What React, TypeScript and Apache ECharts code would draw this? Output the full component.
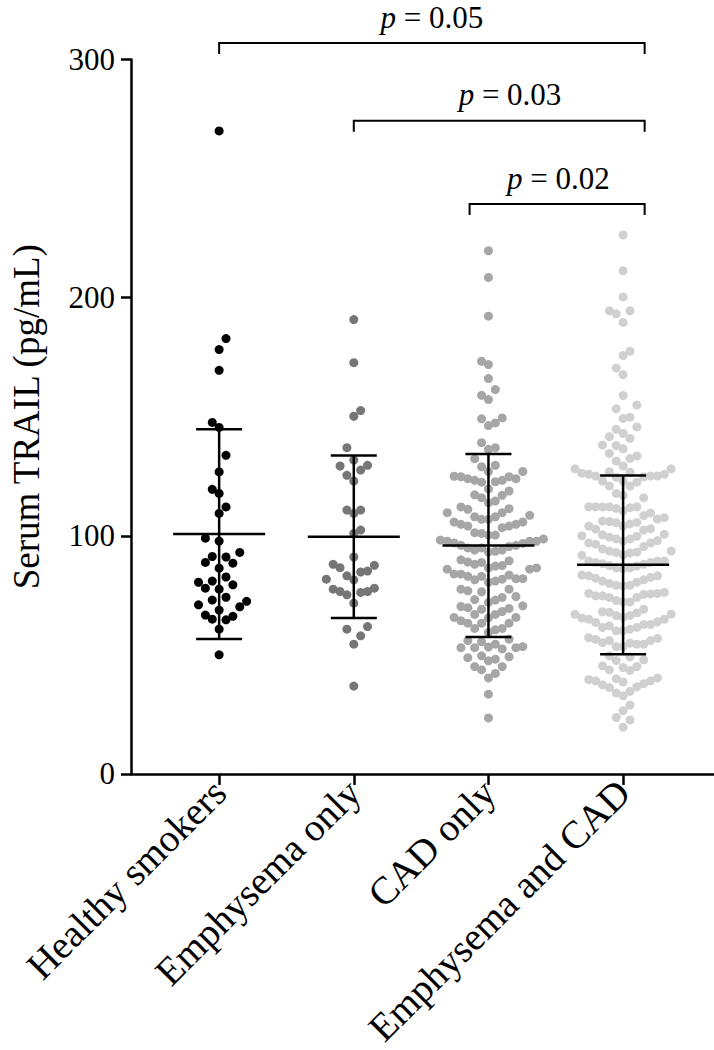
import React, { useEffect, useRef } from "react";
import * as echarts from "echarts";

const categories = ["Healthy smokers", "Emphysema only", "CAD only", "Emphysema and CAD"];
const dotColors = ["#000000", "#767676", "#a6a6a6", "#d0d0d0"];

const healthySmokers = [270, 182.8, 178.2, 169.5, 147.6, 145.5, 133.8, 126.8, 119.5, 117.8, 112.1, 109.4, 99, 97.8, 93, 91.1, 91.3, 88.5, 88.8, 86.4, 82.7, 81, 79.4, 78, 80.5, 77.6, 74.2, 72.5, 73, 71, 70.2, 68.8, 66.2, 66.7, 64.7, 65, 60.8, 50];

const emphysemaOnly = [190.8, 172.7, 152.6, 150.2, 137, 131.8, 129.6, 129.3, 127.6, 125.4, 123, 110.8, 110.8, 109.4, 102.4, 101, 91.1, 88, 87.6, 86.6, 85.2, 84.8, 83.2, 81.8, 81.5, 78, 77.6, 76.6, 76.6, 76.2, 75.2, 71.7, 61.9, 60.8, 58, 54.5, 36.9];

const cadOnly = [
  219.7, 208.5, 192.2, 173.3, 171.9, 166, 161.4, 159, 157.2,
  149.5, 149.1, 147.4, 146.3,
  139.1, 137, 136.3, 132.4,
  129.6, 129,
  127, 124.8, 124, 123.3, 122.7, 122.5, 123.3, 124, 124.8, 125, 127,
  118.8, 117, 114.6, 116, 117.2, 119.7,
  112.1, 111.1, 109.7, 108.6, 109.7, 111.4, 113.9,
  108, 106.9, 105.8, 104.8, 104.1, 103.4, 104.1, 104.8, 105.8, 106.9, 108,
  101.3, 100.3, 98.7, 97.7, 97, 96.8, 97.7, 97.7, 98.2, 100.3, 101,
  96, 94.9, 94, 93.5, 93.2, 94, 94.9, 95.5, 96,
  89.9, 89, 88, 87.3, 86.5, 86, 86, 86.5, 87.5, 88.8, 89.5,
  83.9, 83, 82, 81.8, 81, 80.5, 81.5, 82, 83, 83.5, 84,
  77.6, 76.5, 74.1, 73, 72, 73.2, 74.5, 76.9, 77.6,
  70.6, 69.8, 69.2, 67, 65.7, 65.5, 65.7, 67, 68.2, 69.5, 70.3,
  64.3, 63.3, 61.1, 60.5, 59.4, 61.1, 63.3, 63.3,
  56.6, 55.5, 53, 52.5, 53.5, 53, 53.3, 54.5, 56, 53,
  49.2, 48.2, 47.5, 48.8, 49.6,
  45.1, 43.7, 42.2, 45.1, 40.3,
  33.5, 23.5,
];

const emphysemaAndCad = [
  226.3, 211.3, 200.3, 194.5, 194.5, 193.2, 189.6, 177.5, 175.7, 170.5, 167.7, 158.9,
  153.3, 154.9, 149.3, 149.8, 144.7, 145.7, 143, 141.6, 140.9, 138.1, 136.5, 137.9, 133.5, 131.4, 132.5, 134.6, 129.3,
  128.1, 126.7, 125.8, 125.1, 124.8, 124.5, 125.1, 125.1, 125.8, 126.3, 126.9, 128.1,
  120.9, 123, 122.5, 123, 120.9,
  117, 117.8, 116,
  112.2, 112.2,
  112.1, 111.8, 109.6, 108.5, 107.6, 107, 110.5, 111.5, 112.1, 112.1,
  106.2, 105.5, 104.1, 103, 102.4, 102.8, 104.1, 105, 105.6, 106,
  100.6, 99.8, 98.7, 97.8, 97, 96.5, 97, 98, 98.7, 99.4, 100, 100.4,
  93.6, 93.2, 92.8, 91.8, 92, 93, 93.6, 94.5, 95.5,
  89.4, 88.8, 88, 87.3, 86.5, 86.2, 86.5, 87.5, 88.3, 88.8, 89.4, 89.4,
  83.2, 82.2, 81, 80, 79.2, 79, 79.2, 80.5, 81.5, 82.5, 83.2, 83.5,
  76.2, 75.8, 74.8, 74.1, 72.8, 72.2, 72.2, 74.1, 74.8, 75.4, 75.6, 75.8,
  69.2, 67.9, 67.1, 66.5, 65.5, 65, 65, 65.8, 66.5, 67.1, 67.6, 68.1,
  63.6, 62.8, 61.5, 60.8, 60.1, 60.1, 61.5, 62.2, 62.8, 63.9,
  56.9, 56, 54.9, 54.5, 53.5, 53.5, 54.5, 55.1, 56, 56.5, 57.2,
  49.6, 47.9, 47.6, 49.2,
  45.4, 44.7, 45.1, 43.7, 43.5,
  40.3, 39.6, 39.1, 38.6, 39.1, 40,
  37.9, 36.6, 36.3, 37.4,
  34.7, 32.8, 34,
  28.9, 26.5,
  23.7, 22.7,
  19.6,
];

const groupValues = [healthySmokers, emphysemaOnly, cadOnly, emphysemaAndCad];
const groupMeans = [100.7, 99.6, 95.9, 87.8];
const groupSDs = [44, 34.1, 38.4, 37.5];

const yTicks = [0, 100, 200, 300];

// significance brackets
const bracketFrom = [1, 2, 2.86];
const bracketTo = [4.16, 4.16, 4.16];
const bracketY = [306.9, 274.3, 239.3];
const bracketLabelX = [2.58, 3.16, 3.52];
const bracketLabels = ["0.05", "0.03", "0.02"];

const FONT = "Liberation Serif";
const GRID_LEFT = 120;
const GRID_TOP = 59.5;
const GRID_H = 715.5;
const GRID_W = 594;
const X_MIN = 0.3455;
const X_MAX = 4.675;
const PX_PER_X = GRID_W / (X_MAX - X_MIN);
const PX_PER_Y = GRID_H / 300;

// GraphPad-like column swarm: columns every `step` px, points in one column kept `gap` px apart
function swarmOffsets(values: number[], gap: number, step = 7): number[] {
  const order = values.map((_, i) => i).sort((a, b) => values[a] - values[b]);
  const placed: { x: number; y: number }[] = [];
  const offsets = new Array(values.length).fill(0);
  let flip = 1;
  for (const i of order) {
    const y = values[i] * PX_PER_Y;
    for (let k = 0; k < 80; k++) {
      const cands = k === 0 ? [0] : [k * step * flip, -k * step * flip];
      let found: number | null = null;
      for (const c of cands) {
        const ok = placed.every(
          (p) => Math.abs(p.x - c) > step / 2 || Math.abs(p.y - y) >= gap
        );
        if (ok) {
          found = c;
          break;
        }
      }
      if (found !== null) {
        offsets[i] = found;
        placed.push({ x: found, y });
        if (found !== 0) flip = -flip;
        break;
      }
    }
  }
  return offsets.map((o) => o / PX_PER_X);
}

export default function App() {
  const ref = useRef<HTMLDivElement>(null);

  useEffect(() => {
    if (!ref.current) return;
    const chart = echarts.init(ref.current, undefined, { renderer: "svg" });

    const scatterSeries = groupValues.map((vals, gi) => {
      const offs = swarmOffsets(vals, vals.length < 60 ? 19 : 13.5);
      return {
        type: "scatter",
        name: categories[gi],
        symbol: "circle",
        symbolSize: 9,
        itemStyle: { color: dotColors[gi], opacity: 1 },
        data: vals.map((v, i) => [gi + 1 + offs[i], v]),
        z: 2,
        silent: true,
      };
    });

    const errorSeries = {
      type: "custom",
      z: 5,
      silent: true,
      encode: { x: 0, y: [1] },
      data: groupMeans.map((m, i) => [i + 1, m, groupSDs[i]]),
      renderItem: (params: any, api: any) => {
        const x = api.value(0);
        const m = api.value(1);
        const sd = api.value(2);
        const c = api.coord([x, m]);
        const t = api.coord([x, m + sd]);
        const b = api.coord([x, m - sd]);
        const st = { stroke: "#000", lineWidth: 2.5 };
        return {
          type: "group",
          children: [
            { type: "line", shape: { x1: c[0] - 46, y1: c[1], x2: c[0] + 46, y2: c[1] }, style: st },
            { type: "line", shape: { x1: t[0], y1: t[1], x2: b[0], y2: b[1] }, style: st },
            { type: "line", shape: { x1: t[0] - 23, y1: t[1], x2: t[0] + 23, y2: t[1] }, style: st },
            { type: "line", shape: { x1: b[0] - 23, y1: b[1], x2: b[0] + 23, y2: b[1] }, style: st },
          ],
        };
      },
    };

    const bracketSeries = {
      type: "custom",
      z: 6,
      silent: true,
      clip: false,
      encode: { x: [0, 1, 3], y: 2 },
      data: bracketFrom.map((f, i) => [f, bracketTo[i], bracketY[i], bracketLabelX[i], i]),
      renderItem: (params: any, api: any) => {
        const x1 = api.value(0);
        const x2 = api.value(1);
        const y = api.value(2);
        const lx = api.value(3);
        const idx = api.value(4);
        const p1 = api.coord([x1, y]);
        const p2 = api.coord([x2, y]);
        const pl = api.coord([lx, y]);
        return {
          type: "group",
          children: [
            {
              type: "polyline",
              shape: {
                points: [
                  [p1[0], p1[1] + 11],
                  [p1[0], p1[1]],
                  [p2[0], p2[1]],
                  [p2[0], p2[1] + 11],
                ],
              },
              style: { stroke: "#000", lineWidth: 2, fill: "none" },
            },
            {
              type: "text",
              x: pl[0],
              y: pl[1] - 26,
              style: {
                text: "{i|p} = " + bracketLabels[idx],
                rich: { i: { fontStyle: "italic", fontFamily: FONT, fontSize: 31 } },
                fontFamily: FONT,
                fontSize: 31,
                fill: "#000",
                align: "center",
                verticalAlign: "middle",
              },
            },
          ],
        };
      },
    };

    chart.setOption({
      animation: false,
      backgroundColor: "#ffffff",
      grid: { left: GRID_LEFT, top: GRID_TOP, width: GRID_W, height: GRID_H, containLabel: false },
      xAxis: {
        type: "value",
        min: X_MIN,
        max: X_MAX,
        splitLine: { show: false },
        axisLine: { show: true, onZero: false, lineStyle: { color: "#000", width: 2.5 } },
        axisTick: {
          show: true,
          customValues: [1, 2, 3, 4],
          length: 11,
          lineStyle: { color: "#000", width: 2.5 },
        },
        axisLabel: {
          show: true,
          customValues: [1, 2, 3, 4],
          rotate: 45,
          margin: 12,
          fontFamily: FONT,
          fontSize: 39,
          color: "#000",
          formatter: (v: number) => categories[Math.round(v) - 1] ?? "",
        },
      },
      yAxis: {
        type: "value",
        min: 0,
        max: 300,
        interval: 100,
        splitLine: { show: false },
        axisLine: { show: true, lineStyle: { color: "#000", width: 2.5 } },
        axisTick: { show: true, length: 10, lineStyle: { color: "#000", width: 2.5 } },
        axisLabel: {
          margin: 16,
          fontFamily: FONT,
          fontSize: 31,
          color: "#000",
          formatter: (v: number) => (yTicks.includes(v) ? String(v) : ""),
        },
        name: "Serum TRAIL (pg/mL)",
        nameLocation: "middle",
        nameGap: 86,
        nameTextStyle: { fontFamily: FONT, fontSize: 37, color: "#000" },
      },
      series: [...scatterSeries, errorSeries, bracketSeries],
    });

    return () => chart.dispose();
  }, []);

  return (
    <div
      ref={ref}
      style={{ position: "absolute", left: 0, top: 0, width: 714, height: 1050, background: "#fff" }}
    />
  );
}
